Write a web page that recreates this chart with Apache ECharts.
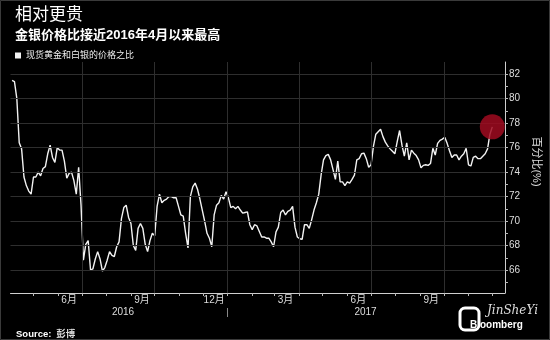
<!DOCTYPE html>
<html><head><meta charset="utf-8">
<script src="https://cdn.jsdelivr.net/npm/echarts@6/dist/echarts.min.js"></script>
<style>html,body{margin:0;padding:0;background:#000;}#c{width:550px;height:340px;}</style>
</head><body><div id="c"></div>
<script>
// sampling grid: one reading every 3 days starting 2016-04-04
const startDate = [2016, 3, 4];
const stepDays = 3;
const ratio = [
81.5,81.4,80.0,76.4,75.9,73.6,72.9,72.45,72.2,73.6,
73.6,74.0,73.7,74.3,74.45,75.5,76.2,75.2,74.8,76.0,
75.8,75.8,74.9,73.5,73.9,74.0,73.3,72.2,74.4,71.3,
66.8,68.1,68.4,66.0,66.1,66.9,67.5,66.9,65.9,66.2,
66.8,67.5,67.2,67.1,67.9,68.3,70.2,71.1,71.3,70.3,
69.8,68.0,67.6,69.4,69.8,69.4,68.1,67.5,68.4,69.0,
68.8,71.2,72.2,71.5,71.7,71.8,72.0,72.0,71.9,71.9,
71.2,70.5,70.4,69.0,67.8,72.0,72.8,73.1,72.6,71.8,
70.9,70.0,69.0,68.6,67.9,70.5,71.3,71.5,72.1,71.8,
72.4,71.9,71.1,71.2,71.0,71.2,70.9,70.65,70.7,70.75,
69.7,69.3,69.7,69.6,69.15,68.7,68.7,68.6,68.6,68.3,
67.9,69.1,69.5,70.7,70.9,70.5,70.8,70.9,71.2,69.5,
68.7,68.55,68.5,69.7,69.7,69.4,70.1,70.9,71.5,72.2,
73.8,75.0,75.35,75.45,75.0,74.2,73.4,74.9,73.2,73.2,
72.9,73.2,73.1,73.4,73.75,75.0,75.1,75.5,75.55,75.1,
74.4,74.6,76.1,77.1,77.3,77.5,76.9,76.45,76.15,75.9,
75.7,75.5,76.5,77.4,76.2,75.3,76.4,75.0,75.8,75.55,
75.35,75.0,74.35,74.55,74.6,74.55,74.7,75.95,75.4,76.35,
76.6,76.7,76.85,76.35,75.75,75.2,75.4,75.4,75.0,75.3,
75.5,75.95,74.6,74.5,75.2,75.3,75.1,75.1,75.3,75.5,
75.9,77.1,77.7
];
const seriesName = '现货黄金和白银的价格之比';
const yTickLabels = [66, 68, 70, 72, 74, 76, 78, 80, 82];
const yTicks = [65,66,67,68,69,70,71,72,73,74,75,76,77,78,79,80,81,82];
const monthLabelDates = ['2016-06-15','2016-09-15','2016-12-15','2017-03-15','2017-06-15','2017-09-15'];
const monthLabels = ['6月','9月','12月','3月','6月','9月'];
const yearLabelDates = ['2016-08-22','2017-06-24'];
const yearLabels = ['2016','2017'];
const yearDivider = ['2017-01-01'];
const quarterLines = ['2016-07-01','2016-10-01','2017-01-01','2017-04-01','2017-07-01','2017-10-01'];
const axisRange = ['2016-04-02','2017-12-17'];

function d(s){ const p = s.split('-').map(Number); return new Date(p[0], p[1]-1, p[2]).getTime(); }
const dates = ratio.map((v, i) => new Date(startDate[0], startDate[1], startDate[2] + stepDays * i).getTime());
const lineData = ratio.map((v, i) => [dates[i], v]);
const monthTicks = [];
for (let y = 2016, m = 4; y < 2018; ) { monthTicks.push(new Date(y, m, 1).getTime()); m++; if (m > 11) { m = 0; y++; } }
const monthLabelTs = monthLabelDates.map(d);
const yearLabelTs = yearLabelDates.map(d);

const FONT = '"Liberation Sans","Noto Sans CJK SC",sans-serif';
const chart = echarts.init(document.getElementById('c'));
chart.setOption({
  animation: false,
  backgroundColor: '#000',
  textStyle: { fontFamily: FONT },
  title: [
    { text: '相对更贵', left: 10, top: 2, textStyle: { color: '#fff', fontSize: 17, fontWeight: 'normal', fontFamily: FONT } },
    { text: '金银价格比接近2016年4月以来最高', left: 10, top: 24, textStyle: { color: '#fff', fontSize: 13, fontWeight: 'bold', fontFamily: FONT } },
    { text: '{b|Source:} {n|彭博}', left: 11, top: 320, textStyle: { rich: {
        b: { color: '#fff', fontSize: 9.5, fontWeight: 'bold', fontFamily: FONT },
        n: { color: '#ddd', fontSize: 9.5, fontFamily: FONT } } } }
  ],
  legend: {
    data: [{ name: seriesName, icon: 'rect' }],
    left: 10, top: 46, itemWidth: 6, itemHeight: 6,
    textStyle: { color: '#eee', fontSize: 9, fontFamily: FONT }
  },
  grid: { left: 10.5, right: 41, top: 62, bottom: 47 },
  xAxis: [{
    type: 'value', min: d(axisRange[0]), max: d(axisRange[1]),
    axisLine: { show: true, lineStyle: { color: '#cfcfcf', width: 1 } },
    axisTick: { show: true, customValues: monthTicks, length: 3, lineStyle: { color: '#bbb' } },
    axisLabel: { customValues: monthLabelTs, margin: 2, color: '#ddd', fontSize: 10, fontFamily: FONT,
      formatter: function (v) { const i = monthLabelTs.indexOf(v); return i >= 0 ? monthLabels[i] : ''; } },
    splitLine: { show: false }
  }, {
    type: 'value', min: d(axisRange[0]), max: d(axisRange[1]), position: 'bottom', offset: 15,
    axisLine: { show: false },
    axisTick: { show: true, customValues: yearDivider.map(d), length: 9, lineStyle: { color: '#888' } },
    axisLabel: { customValues: yearLabelTs, margin: -1, color: '#ddd', fontSize: 10, fontFamily: FONT,
      formatter: function (v) { const i = yearLabelTs.indexOf(v); return i >= 0 ? yearLabels[i] : ''; } },
    splitLine: { show: false }
  }],
  yAxis: {
    type: 'value', position: 'right', min: 64.12, max: 83,
    axisLine: { show: true, lineStyle: { color: '#cfcfcf', width: 1 } },
    axisTick: { show: true, customValues: yTicks, length: 3, lineStyle: { color: '#bbb' } },
    axisLabel: { customValues: yTickLabels, margin: 4, color: '#ddd', fontSize: 10, fontFamily: FONT },
    splitLine: { show: false },
    name: '百分比(%)', nameLocation: 'middle', nameRotate: -90, nameGap: 20,
    nameTextStyle: { color: '#ddd', fontSize: 11, fontFamily: FONT, padding: [0, 32, 0, 0] }
  },
  series: [{
    type: 'line', data: [], z: 1, silent: true,
    markLine: {
      silent: true, symbol: 'none', label: { show: false },
      lineStyle: { color: '#2e2e2e', width: 1, type: 'solid' },
      data: yTickLabels.map(v => ({ yAxis: v })).concat(quarterLines.map(s => ({ xAxis: d(s) })))
    }
  }, {
    name: seriesName, type: 'line', data: lineData, z: 3,
    showSymbol: false, symbol: 'none',
    lineStyle: { color: '#f2f2f2', width: 1.4 },
    itemStyle: { color: '#f2f2f2' },
    markPoint: {
      silent: true, symbol: 'circle', symbolSize: 25, label: { show: false },
      itemStyle: { color: 'rgba(160,10,32,0.85)' },
      data: [{ coord: lineData[lineData.length - 1] }]
    }
  }],
  graphic: [
    { type: 'rect', shape: { x: 0.5, y: 0.5, width: 549, height: 339 }, style: { fill: 'none', stroke: '#3a3a3a' }, silent: true },
    { type: 'rect', shape: { x: 460, y: 308, width: 19, height: 22, r: 5 }, style: { fill: 'none', stroke: '#fff', lineWidth: 3 }, silent: true },
    { type: 'text', left: 487, top: 305, style: { text: 'JinSheYi', fill: '#ddd', font: 'italic 12px "DejaVu Serif", serif' }, silent: true },
    { type: 'text', left: 470, top: 320, style: { text: 'Bloomberg', fill: '#fff', font: 'bold 10px "Liberation Sans", sans-serif' }, silent: true }
  ]
});
</script>
</body></html>
